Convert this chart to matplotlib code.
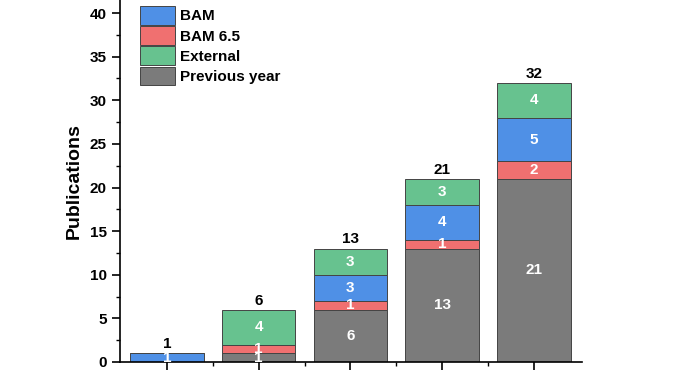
import matplotlib.pyplot as plt
import numpy as np

plt.rcParams['font.family'] = ['Liberation Sans', 'DejaVu Sans']
plt.rcParams['font.weight'] = 'bold'

years = ['2018', '2019', '2020', '2021', '2022']
previous = [0, 1, 6, 13, 21]
bam65 = [0, 1, 1, 1, 2]
bam = [1, 0, 3, 4, 5]
external = [0, 4, 3, 3, 4]

series = [
    ('Previous year', previous, '#7b7b7b'),
    ('BAM 6.5', bam65, '#f07070'),
    ('BAM', bam, '#4f90e6'),
    ('External', external, '#67c28f'),
]

fig = plt.figure(figsize=(6.78, 3.81), dpi=100)
ax = fig.add_axes([0.177, 0.05, 0.681, 0.95])

x = np.arange(len(years))
bottom = np.zeros(len(years))
handles = {}
for name, vals, col in series:
    vals = np.array(vals, dtype=float)
    bars = ax.bar(x, vals, 0.8, bottom=bottom, color=col, edgecolor='#444444', linewidth=0.7)
    handles[name] = bars
    for xi, v, b in zip(x, vals, bottom):
        if v > 0:
            ax.text(xi, b + v / 2, str(int(v)), ha='center', va='center',
                    color='white', fontsize=11, fontweight='bold')
    bottom += vals

for xi, t in zip(x, bottom):
    ax.annotate(str(int(t)), (xi, t), xytext=(0, 1.5), textcoords='offset points',
                ha='center', va='bottom', fontsize=11, fontweight='bold')

order = ['BAM', 'BAM 6.5', 'External', 'Previous year']
leg = ax.legend([handles[n] for n in order], order, loc='upper left',
                bbox_to_anchor=(0.03, 1.0), frameon=False, fontsize=11,
                handlelength=2.3, handleheight=1.5, handletextpad=0.3,
                labelspacing=0.1, borderaxespad=0)

ax.set_xlim(-0.51, 4.52)
ax.set_ylim(0, 41.5)
ax.set_xticks(x)
ax.set_xticklabels(years)
ax.set_xticks(x[:-1] + 0.5, minor=True)
ax.set_yticks(range(0, 41, 5))
ax.set_yticks(np.arange(2.5, 41, 5), minor=True)
ax.tick_params(axis='both', which='major', direction='out', length=6, width=1.2, labelsize=11)
ax.tick_params(axis='both', which='minor', direction='out', length=3, width=1.0)
ax.tick_params(axis='x', pad=11)
ax.spines['top'].set_visible(False)
ax.spines['right'].set_visible(False)
ax.spines['left'].set_linewidth(1.2)
ax.spines['bottom'].set_linewidth(1.2)
ax.set_ylabel('Publications', fontsize=14, fontweight='bold', labelpad=5)

fig.savefig('out.png', dpi=100)
